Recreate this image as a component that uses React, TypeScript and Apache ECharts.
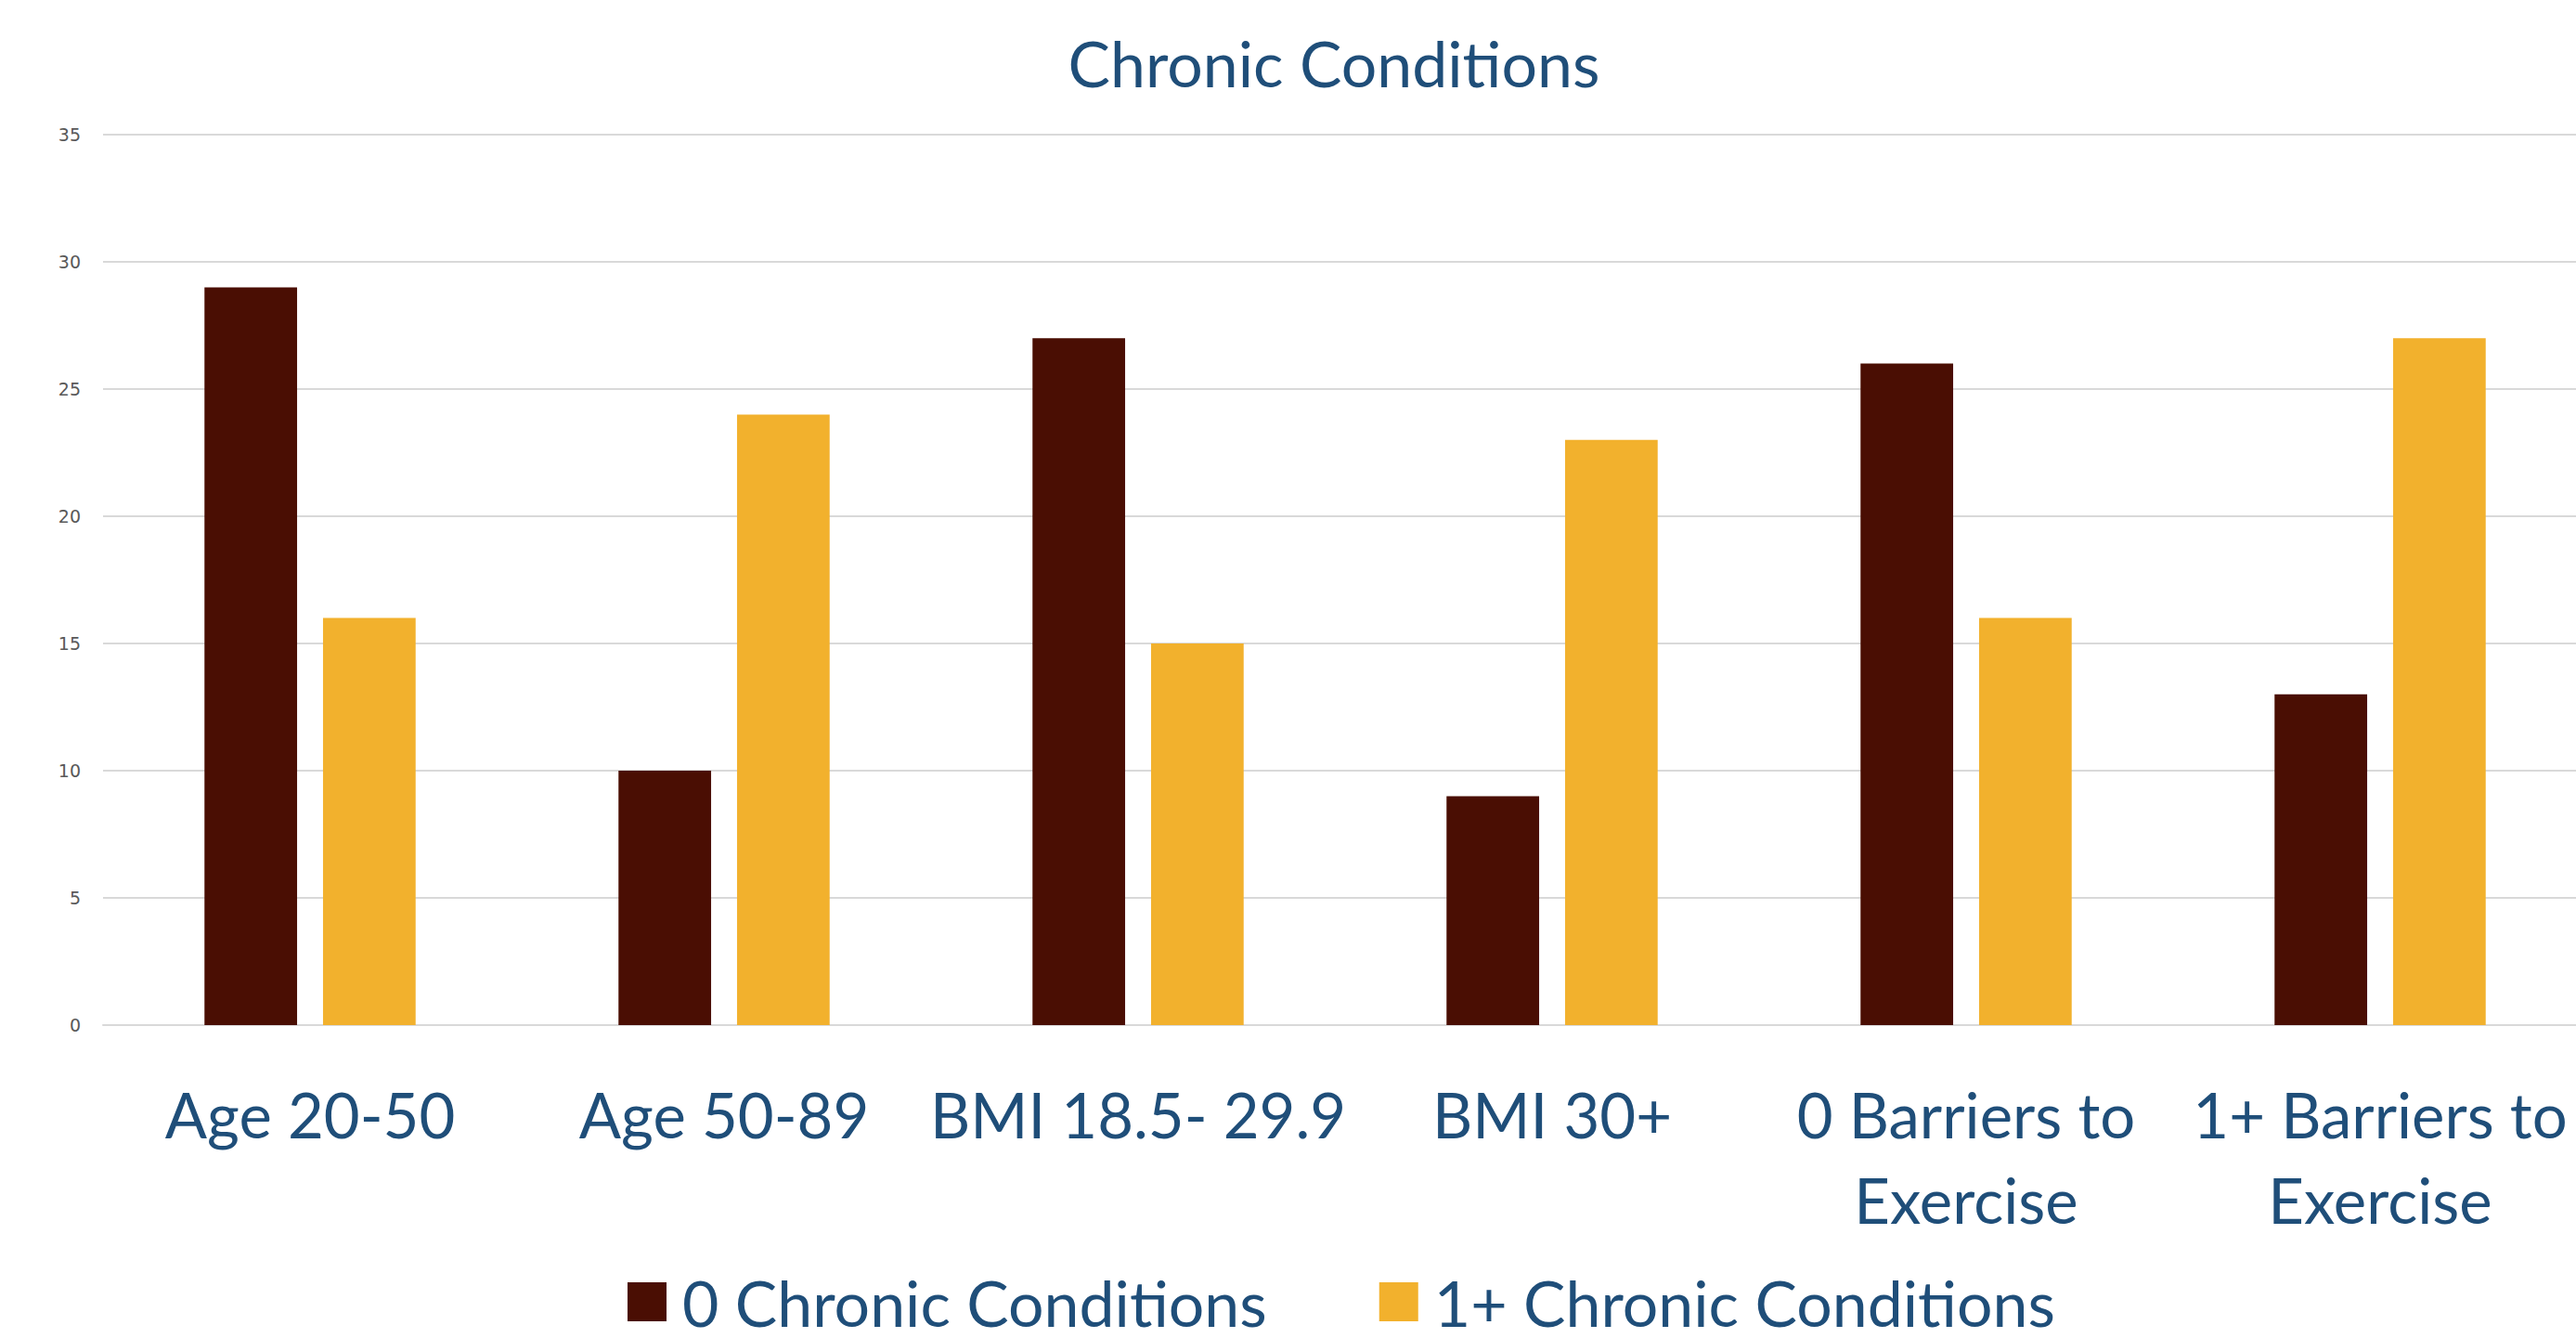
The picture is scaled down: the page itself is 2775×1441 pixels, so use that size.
import React, { useEffect, useRef } from "react";
import * as echarts from "echarts";

const categories = [
  "Age 20-50",
  "Age 50-89",
  "BMI 18.5- 29.9",
  "BMI 30+",
  "0 Barriers to\nExercise",
  "1+ Barriers to\nExercise",
];
const zeroChronic = [29, 10, 27, 9, 26, 13];
const onePlusChronic = [16, 24, 15, 23, 16, 27];
const seriesNames = ["0 Chronic Conditions", "1+ Chronic Conditions"];
const yTicks = { min: 0, max: 35, interval: 5 };

const BLUE = "#1F4E79";
const FONT = "Lato";

export default function App() {
  const ref = useRef<HTMLDivElement>(null);
  useEffect(() => {
    if (!ref.current) return;
    document.body.style.overflow = "hidden";
    const chart = echarts.init(ref.current, null, { renderer: "svg" });
    chart.setOption({
      animation: false,
      backgroundColor: "#ffffff",
      title: {
        text: "Chronic Conditions",
        left: 1432,
        textAlign: "center",
        top: 28,
        textStyle: { color: BLUE, fontFamily: FONT, fontSize: 68, fontWeight: "normal" },
      },
      legend: {
        left: 671,
        top: 1363,
        itemWidth: 42,
        itemHeight: 42,
        itemGap: 121,
        icon: "rect",
        textStyle: { color: BLUE, fontFamily: FONT, fontSize: 68, padding: [0, 0, 0, 12] },
        data: seriesNames,
      },
      grid: { left: 111, right: 13, top: 145, bottom: 337, containLabel: false },
      xAxis: {
        type: "category",
        data: categories,
        axisLine: { show: true, lineStyle: { color: "#D9D9D9", width: 2 } },
        axisTick: { show: false },
        axisLabel: {
          interval: 0,
          color: BLUE,
          fontFamily: FONT,
          fontSize: 67,
          lineHeight: 92,
          margin: 50,
        },
      },
      yAxis: {
        type: "value",
        min: yTicks.min,
        max: yTicks.max,
        interval: yTicks.interval,
        axisLine: { show: false },
        axisTick: { show: false },
        splitLine: { lineStyle: { color: "#D9D9D9", width: 2 } },
        axisLabel: { color: "#595959", fontFamily: "DejaVu Sans", fontSize: 19, margin: 24 },
      },
      series: [
        {
          name: seriesNames[0],
          type: "bar",
          data: zeroChronic,
          itemStyle: { color: "#4A0E03" },
          barGap: "28%",
          barCategoryGap: "49%",
        },
        {
          name: seriesNames[1],
          type: "bar",
          data: onePlusChronic,
          itemStyle: { color: "#F2B12D" },
        },
      ],
    });
    return () => chart.dispose();
  }, []);
  return (
    <div
      ref={ref}
      style={{ position: "fixed", left: 0, top: 0, width: 2800, height: 1441 }}
    />
  );
}
